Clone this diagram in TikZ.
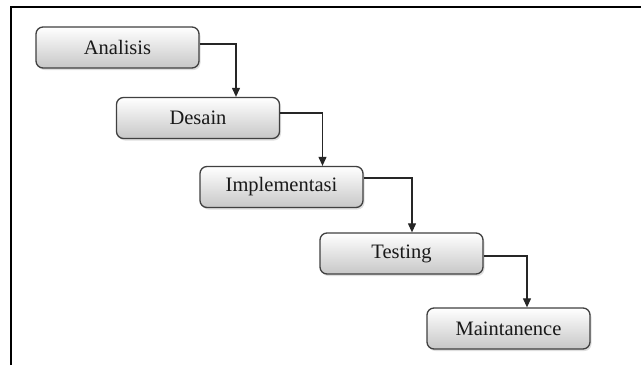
\documentclass[tikz,border=0pt]{standalone}
\usepackage{fontspec}
\setmainfont{Liberation Serif}
\usetikzlibrary{arrows.meta,shadows}
\begin{document}
\begin{tikzpicture}[x=1pt,y=-1pt,
  phase/.style={draw=black!75, line width=1.3pt, rounded corners=7pt,
    minimum width=163pt, minimum height=41pt, inner sep=0pt,
    top color=white, bottom color=black!22,
    drop shadow={opacity=0.25, shadow xshift=1.5pt, shadow yshift=-2pt},
    font=\fontsize{20.5}{24}\selectfont, text=black!90},
  flow/.style={draw=black!85, line width=1.1pt,
    -{Triangle[width=8pt,length=9pt]}},
  frame/.style={draw=black, line width=2pt}]
  \useasboundingbox (0,0) rectangle (641,365);
  % outer frame (top and left edges)
  \draw[frame] (11,365) -- (11,7) -- (641,7);
  % phases
  \node[phase] (ana) at (117.5,47.5) {Analisis};
  \node[phase] (des) at (198,118) {Desain};
  \node[phase] (imp) at (281.5,187) {Implementasi};
  \node[phase] (tes) at (401.5,253.5) {Testing};
  \node[phase] (mai) at (508.5,328.5) {Maintanence};
  % connectors
  \draw[flow] ([yshift=3.5pt]ana.east) -| ([xshift=38pt]des.north);
  \draw[flow] ([yshift=5pt]des.east) -| ([xshift=41pt]imp.north);
  \draw[flow] ([yshift=9pt]imp.east) -| ([xshift=10.5pt]tes.north);
  \draw[flow] ([yshift=-2.5pt]tes.east) -| ([xshift=18.5pt]mai.north);
\end{tikzpicture}
\end{document}
